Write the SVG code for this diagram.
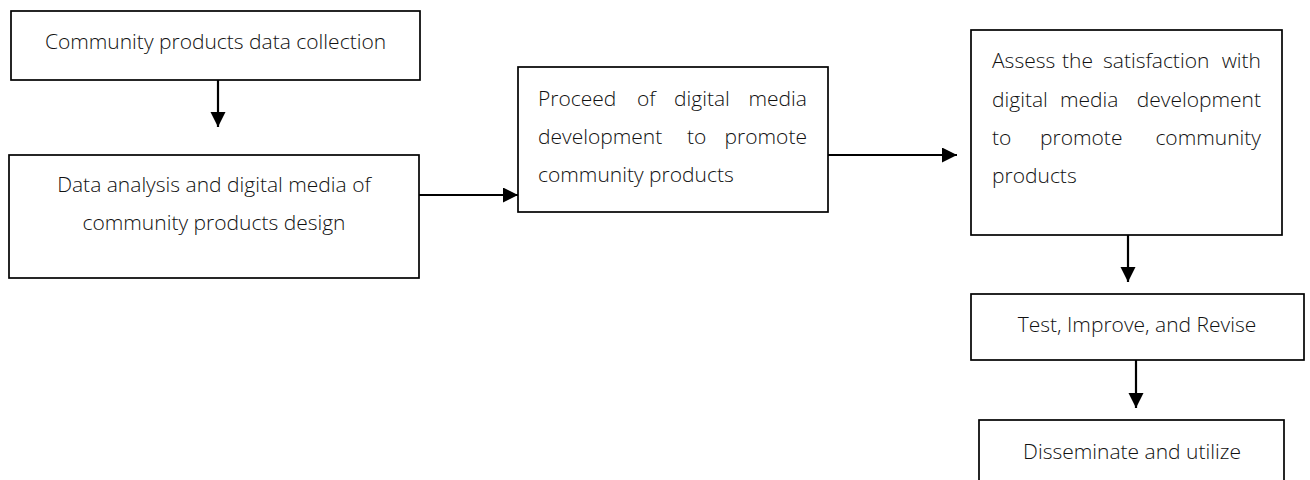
<svg xmlns="http://www.w3.org/2000/svg" width="1310" height="480" viewBox="0 0 1310 480">
  <style>
    .box { fill: #ffffff; stroke: #000000; stroke-width: 1.7; }
    .t { font-family: "Open Sans", "Noto Sans", "Liberation Sans", sans-serif; font-size: 21px; font-weight: 300; fill: #111111; }
    .c { text-anchor: middle; }
    .e { text-anchor: end; }
    .conn { stroke: #000000; stroke-width: 2.2; fill: none; }
  </style>
  <defs>
    <marker id="ah" markerUnits="userSpaceOnUse" markerWidth="16" markerHeight="16" refX="15" refY="7.5" orient="auto">
      <path d="M0,0 L15,7.5 L0,15 Z" fill="#000000"/>
    </marker>
  </defs>
  <rect width="1310" height="480" fill="#ffffff"/>

  <g id="connectors">
    <line class="conn" x1="218" y1="80" x2="218" y2="127" marker-end="url(#ah)"/>
    <line class="conn" x1="419" y1="195" x2="518" y2="195" marker-end="url(#ah)"/>
    <line class="conn" x1="828" y1="155" x2="957" y2="155" marker-end="url(#ah)"/>
    <line class="conn" x1="1128" y1="235" x2="1128" y2="282" marker-end="url(#ah)"/>
    <line class="conn" x1="1136" y1="360" x2="1136" y2="408" marker-end="url(#ah)"/>
  </g>

  <g id="node1">
    <rect class="box" x="11" y="11" width="409" height="69"/>
    <text class="t c" x="215.5" y="49">Community products data collection</text>
  </g>

  <g id="node2">
    <rect class="box" x="9" y="155" width="410" height="123"/>
    <text class="t c" x="214" y="192">Data analysis and digital media of</text>
    <text class="t c" x="214" y="230">community products design</text>
  </g>

  <g id="node3">
    <rect class="box" x="518" y="67" width="310" height="145"/>
    <text class="t" y="106"><tspan x="538">Proceed</tspan><tspan x="637">of</tspan><tspan x="674">digital</tspan><tspan x="807" text-anchor="end">media</tspan></text>
    <text class="t" y="144"><tspan x="538">development</tspan><tspan x="687">to</tspan><tspan x="807" text-anchor="end">promote</tspan></text>
    <text class="t" x="538" y="182">community products</text>
  </g>

  <g id="node4">
    <rect class="box" x="971" y="30" width="311" height="205"/>
    <text class="t" y="68"><tspan x="992">Assess</tspan><tspan x="1062">the</tspan><tspan x="1103">satisfaction</tspan><tspan x="1261" text-anchor="end">with</tspan></text>
    <text class="t" y="107"><tspan x="992">digital</tspan><tspan x="1060">media</tspan><tspan x="1261" text-anchor="end">development</tspan></text>
    <text class="t" y="145"><tspan x="992">to</tspan><tspan x="1040">promote</tspan><tspan x="1261" text-anchor="end">community</tspan></text>
    <text class="t" x="992" y="183">products</text>
  </g>

  <g id="node5">
    <rect class="box" x="971" y="294" width="333" height="66"/>
    <text class="t c" x="1137" y="332">Test, Improve, and Revise</text>
  </g>

  <g id="node6">
    <rect class="box" x="979" y="420" width="305" height="70"/>
    <text class="t c" x="1132" y="459">Disseminate and utilize</text>
  </g>
</svg>
